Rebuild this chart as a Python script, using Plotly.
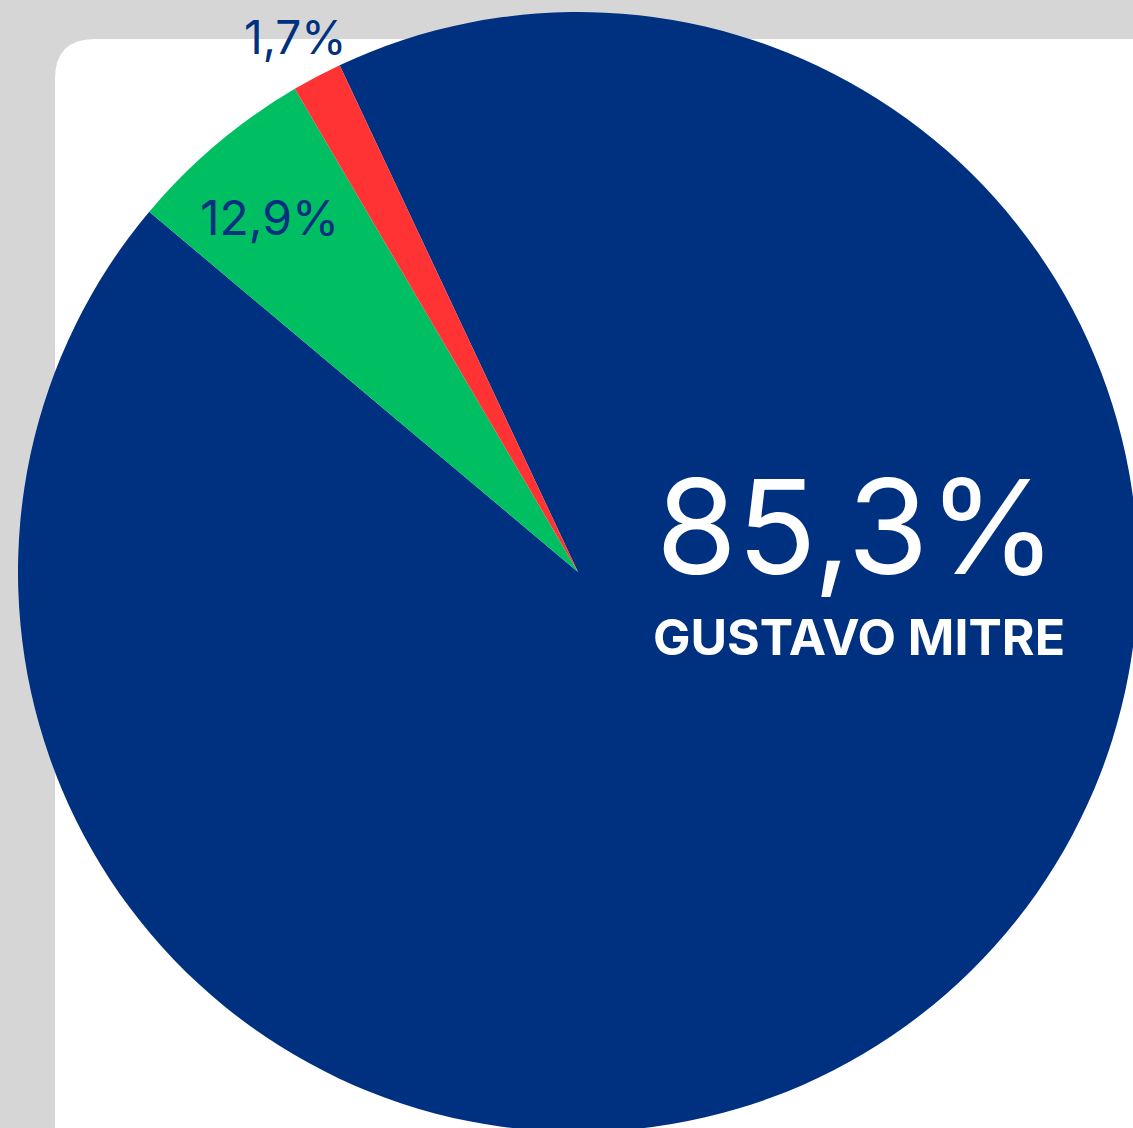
import plotly.graph_objects as go

candidates = ["GUSTAVO MITRE", "Outro 1", "Outro 2"]
slice_values = [93.1, 5.44, 1.44]
label_texts = ["85,3%", "12,9%", "1,7%"]
colors = ["#003080", "#00BE62", "#FF3333"]

W, H = 1138, 1132

fig = go.Figure(go.Pie(
    labels=candidates,
    values=slice_values,
    marker=dict(colors=colors, line=dict(width=0)),
    sort=False,
    direction="clockwise",
    rotation=-25.19,
    textinfo="none",
    hoverinfo="label+percent",
    showlegend=False,
    domain=dict(x=[18 / W, 1], y=[0, 1 - 12 / H]),
))

def px(x, y):
    return x / W, 1 - y / H

# white rounded panel
x0, y0, r = 55, 39, 40
def P(x, y):
    a, b = px(x, y)
    return f"{a:.5f},{b:.5f}"
path = (f"M {P(x0, H+5)} L {P(x0, y0 + r)} Q {P(x0, y0)} {P(x0 + r, y0)} "
        f"L {P(W+5, y0)} L {P(W+5, H+5)} Z")
fig.add_shape(type="path", path=path, xref="paper", yref="paper",
              fillcolor="white", line=dict(width=0), layer="below")

def ann(text, x, y, size, color, weight="normal", family="Inter"):
    ax, ay = px(x, y)
    fig.add_annotation(text=text, x=ax, y=ay, xref="paper", yref="paper",
                       xanchor="center", yanchor="middle", showarrow=False,
                       font=dict(size=size, color=color, family=family, weight=weight))

ann(label_texts[0], 856, 526, 131, "white", weight=400)
ann(candidates[0], 859, 637, 50, "white", weight="bold")
ann(label_texts[1], 269, 217, 48, colors[0], weight=400)
ann(label_texts[2], 295, 37, 46, colors[0], weight=400)

fig.update_layout(
    width=W, height=H,
    margin=dict(l=0, r=0, t=0, b=0),
    paper_bgcolor="#D6D6D6",
    plot_bgcolor="#D6D6D6",
)

fig.write_html("out.html", config={"displayModeBar": False}, post_script=(
    "document.body.style.margin='0';"
    "document.body.style.overflow='hidden';"
    "document.documentElement.style.overflow='hidden';"
))
